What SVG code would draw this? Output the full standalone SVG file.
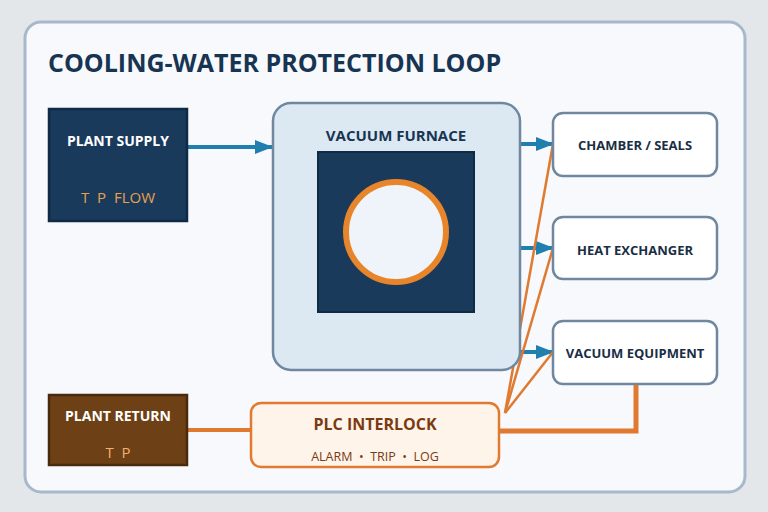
<svg xmlns="http://www.w3.org/2000/svg" width="768" height="512" viewBox="0 0 768 512">
<defs>
<marker id="ab" markerWidth="10" markerHeight="10" refX="9" refY="5" orient="auto" markerUnits="userSpaceOnUse" viewBox="0 0 10 10"><path d="M0,0 L10,5 L0,10 Z" fill="#1f7fae"/></marker>
<marker id="abig" markerWidth="18" markerHeight="14" refX="17" refY="7" orient="auto" markerUnits="userSpaceOnUse" viewBox="0 0 18 14"><path d="M0,0 L18,7 L0,14 Z" fill="#1f7fae"/></marker>
</defs>
<style>
text{font-family:"Open Sans","Noto Sans","Liberation Sans",sans-serif}
.b{font-weight:700}
.side{fill:#ffffff;stroke:#6f88a0;stroke-width:2.5}
.sl{font-size:13px;fill:#1a2e44;font-weight:700;text-anchor:middle}
.blue{stroke:#1f7fae;stroke-width:4;fill:none}
.or{stroke:#e07a30;fill:none}
</style>
<rect width="768" height="512" fill="#e4e7ea"/>
<rect x="25" y="22" width="720" height="470" rx="16" fill="#f7f9fc" stroke="#a8b8cc" stroke-width="3"/>
<text x="48" y="72" class="b" font-size="25" fill="#173552">COOLING-WATER PROTECTION LOOP</text>
<g id="connectors">
<line x1="188" y1="147" x2="272" y2="147" class="blue" marker-end="url(#abig)"/>
<line x1="520" y1="144" x2="553" y2="144" class="blue" marker-end="url(#abig)"/>
<line x1="520" y1="248" x2="553" y2="248" class="blue" marker-end="url(#abig)"/>
<line x1="520" y1="352" x2="553" y2="352" class="blue" marker-end="url(#abig)"/>
<line x1="505" y1="413" x2="553" y2="144" class="or" stroke-width="2.5"/>
<line x1="505" y1="413" x2="553" y2="248" class="or" stroke-width="2.5"/>
<line x1="505" y1="413" x2="553" y2="352" class="or" stroke-width="2.5"/>
<polyline points="636,384 636,431 499,431" class="or" stroke-width="5"/>
<line x1="188" y1="430" x2="251" y2="430" class="or" stroke-width="4"/>
</g>
<g id="plant-supply">
<rect x="49" y="109" width="138" height="112" fill="#1a3a5c" stroke="#0f2a45" stroke-width="2.5"/>
<text x="118" y="146" class="b" font-size="14" fill="#fff" text-anchor="middle">PLANT SUPPLY</text>
<text x="118" y="203" font-size="15" fill="#e8a050" text-anchor="middle" xml:space="preserve">T  P  FLOW</text>
</g>
<g id="vacuum-furnace">
<rect x="273" y="103" width="247" height="267" rx="18" fill="#dce8f2" stroke="#6f88a0" stroke-width="2.5"/>
<text x="396" y="141" class="b" font-size="15" fill="#173552" text-anchor="middle">VACUUM FURNACE</text>
<rect x="318" y="152" width="156" height="160" fill="#1a3a5c" stroke="#0f2a45" stroke-width="2"/>
<circle cx="396" cy="232" r="50" fill="#eef4fa" stroke="#e8852a" stroke-width="6"/>
</g>
<g id="chamber-seals">
<rect x="553" y="113" width="164" height="63" rx="10" class="side"/>
<text x="635" y="150" class="sl">CHAMBER / SEALS</text>
</g>
<g id="heat-exchanger">
<rect x="553" y="217" width="164" height="62" rx="10" class="side"/>
<text x="635" y="255" class="sl">HEAT EXCHANGER</text>
</g>
<g id="vacuum-equipment">
<rect x="553" y="321" width="164" height="63" rx="10" class="side"/>
<text x="635" y="358" class="sl">VACUUM EQUIPMENT</text>
</g>
<g id="plant-return">
<rect x="49" y="395" width="138" height="70" fill="#6e4016" stroke="#4a2a0c" stroke-width="2.5"/>
<text x="118" y="421" class="b" font-size="14" fill="#fff" text-anchor="middle">PLANT RETURN</text>
<text x="118" y="458" font-size="15" fill="#f0b070" text-anchor="middle" xml:space="preserve">T  P</text>
</g>
<g id="plc-interlock">
<rect x="251" y="403" width="248" height="64" rx="10" fill="#fff4ea" stroke="#e07a30" stroke-width="2.5"/>
<text x="375" y="430" class="b" font-size="16" fill="#7a3a12" text-anchor="middle">PLC INTERLOCK</text>
<text x="375" y="461" font-size="12.5" fill="#7a3a12" text-anchor="middle" xml:space="preserve">ALARM  •  TRIP  •  LOG</text>
</g>
</svg>
